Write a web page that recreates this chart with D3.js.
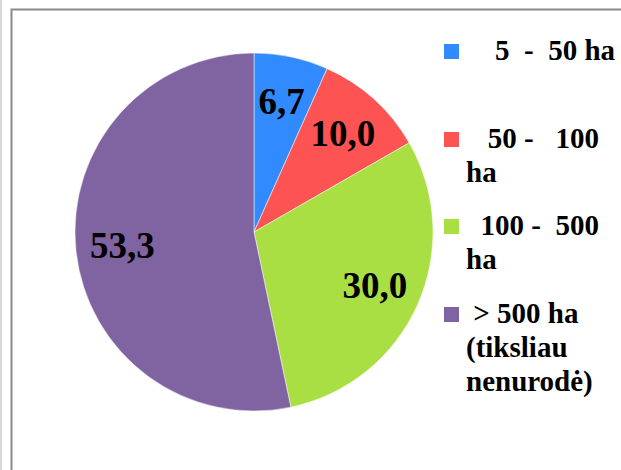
<!DOCTYPE html>
<html>
<head>
<meta charset="utf-8">
<script src="https://cdn.jsdelivr.net/npm/d3@7"></script>
<style>
  body { margin: 0; background: #fff; }
  svg { display: block; }
  text { font-family: "Liberation Serif", "Times New Roman", serif; font-weight: bold; white-space: pre; }
</style>
</head>
<body>
<script>
const categories = ['5  -  50 ha', '50 -   100 ha', '100 -  500 ha', '> 500 ha (tiksliau nenurodė)'];
const values = [6.7, 10.0, 30.0, 53.3];
const valueLabels = ['6,7', '10,0', '30,0', '53,3'];
const legendLines = [
  ['    5  -  50 ha'],
  ['   50 -   100', 'ha'],
  ['  100 -  500', 'ha'],
  [' > 500 ha', '(tiksliau', 'nenurodė)']
];
const colors = ['#318bfe', '#fe5353', '#a9df42', '#8064a2'];

const W = 621, H = 470;
const svg = d3.select('body').append('svg')
  .attr('width', W)
  .attr('height', H);

// frame
svg.append('line')
  .attr('x1', 1).attr('y1', 0).attr('x2', 1).attr('y2', H)
  .attr('stroke', '#d8d8d8').attr('stroke-width', 2);
svg.append('rect')
  .attr('x', 11.5).attr('y', 9.5)
  .attr('width', W + 20).attr('height', H + 20)
  .attr('fill', 'none')
  .attr('stroke', '#8a8a8a').attr('stroke-width', 2);

const cx = 254, cy = 232, radius = 179;

const pie = d3.pie().sort(null).value(d => d);
const arcs = pie(values);

const arc = d3.arc().innerRadius(0).outerRadius(radius);
const labelArc = d3.arc().innerRadius(radius * 0.74).outerRadius(radius * 0.74);

const g = svg.append('g')
  .attr('transform', `translate(${cx},${cy})`);

g.selectAll('path')
  .data(arcs)
  .enter()
  .append('path')
  .attr('d', arc)
  .attr('fill', (d, i) => colors[i])
  .attr('stroke', '#ffffff')
  .attr('stroke-width', 0.5);

g.selectAll('text.val')
  .data(arcs)
  .enter()
  .append('text')
  .attr('class', 'val')
  .attr('x', d => labelArc.centroid(d)[0])
  .attr('y', d => labelArc.centroid(d)[1] + 12)
  .attr('text-anchor', 'middle')
  .style('font-size', '37px')
  .attr('fill', '#000')
  .text((d, i) => valueLabels[i]);

// legend
const legendTop = [44, 132, 219, 307];
const legend = svg.append('g').attr('class', 'legend');

legendLines.forEach((lines, i) => {
  const y0 = legendTop[i];
  legend.append('rect')
    .attr('x', 444)
    .attr('y', y0)
    .attr('width', 15)
    .attr('height', 15)
    .attr('fill', colors[i]);
  const t = legend.append('text')
    .attr('x', 466)
    .attr('y', y0 + 16)
    .style('font-size', '29px')
    .attr('fill', '#000');
  lines.forEach((ln, j) => {
    t.append('tspan')
      .attr('x', 466)
      .attr('dy', j === 0 ? 0 : 34)
      .text(ln);
  });
});
</script>
</body>
</html>
